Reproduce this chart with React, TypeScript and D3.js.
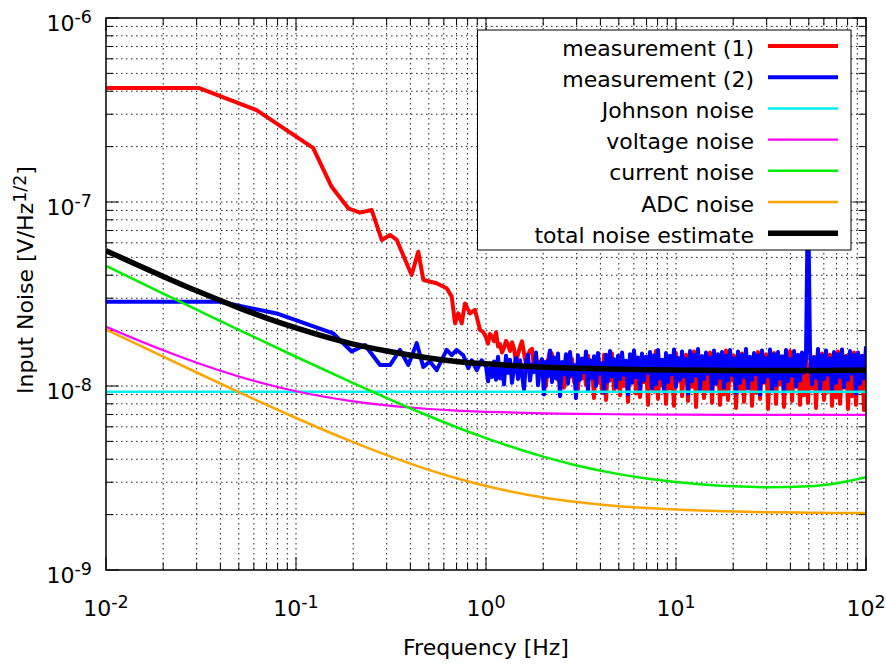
import React from "react";
import * as d3 from "d3";

const W = 886;
const H = 667;

// axis domains
const xDomain: [number, number] = [0.01, 100];
const yDomain: [number, number] = [1e-9, 1e-6];
const xExponents = [-2, -1, 0, 1, 2];
const yExponents = [-9, -8, -7, -6];

// measurement (1), low-frequency part (Hz, nV/Hz^1/2)
const meas1Freq = [0.01, 0.031, 0.062, 0.123, 0.154, 0.1885, 0.217, 0.25, 0.2825, 0.3125, 0.339, 0.406, 0.44, 0.468, 0.55, 0.621, 0.66, 0.687, 0.715, 0.745, 0.775, 0.824, 0.875, 0.93, 0.965];
const meas1Val = [416, 416, 316, 197, 121, 92.4, 87.5, 90.5, 62.2, 66.2, 62.2, 40.1, 53.7, 37.7, 36.2, 34.0, 30.6, 21.9, 24.8, 21.9, 28.1, 24.8, 25.9, 20.2, 19.7];

// measurement (2), low-frequency part
const meas2Freq = [0.01, 0.0398, 0.0791, 0.157, 0.1964, 0.2307, 0.2768, 0.3125, 0.3527, 0.39, 0.4318, 0.4677, 0.5074, 0.55, 0.621, 0.66, 0.701, 0.759, 0.807, 0.841, 0.894, 0.949];
const meas2Val = [28.7, 28.7, 24.8, 19.3, 15.4, 16.7, 13.0, 13.0, 15.7, 13.0, 17.1, 12.7, 13.6, 12.2, 15.7, 14.7, 15.7, 14.7, 12.5, 13.8, 12.2, 13.8];

// dense spectrum section, 1 Hz .. 100 Hz, 191 log-spaced bins (nV/Hz^1/2)
const bandStart = 1;
const bandEnd = 100;
const meas1Band = [
  18.4, 17.0, 19.2, 18.6, 17.5, 19.6, 16.4, 16.9, 15.2, 16.1,
  17.6, 16.8, 15.5, 17.3, 16.0, 13.4, 14.9, 16.3, 17.5, 15.1,
  13.2, 14.8, 15.6, 15.9, 12.4, 14.7, 11.8, 13.6, 12.2, 10.3,
  10.0, 13.8, 15.5, 14.9, 11.6, 12.9, 10.8, 13.1, 11.5, 9.8,
  12.6, 14.3, 11.2, 14.0, 10.5, 12.8, 9.6, 13.5, 11.0, 12.4,
  10.1, 14.6, 12.0, 13.2, 8.6, 13.9, 10.4, 12.7, 9.2, 14.8,
  8.4, 12.9, 10.7, 15.0, 9.5, 13.4, 11.3, 8.9, 14.4, 10.0,
  12.6, 8.2, 13.8, 10.9, 15.3, 9.1, 12.5, 8.7, 14.1, 10.5,
  13.0, 7.9, 14.7, 11.2, 9.3, 15.5, 8.5, 12.8, 10.1, 13.6,
  8.0, 14.2, 9.7, 12.3, 7.8, 15.1, 10.6, 13.5, 8.8, 11.9,
  14.8, 8.3, 12.7, 9.9, 15.4, 7.7, 13.1, 10.8, 14.5, 8.6,
  12.2, 9.4, 15.2, 8.1, 13.7, 10.3, 14.0, 7.9, 12.9, 9.0,
  15.6, 8.4, 13.3, 10.7, 14.6, 7.6, 12.5, 9.6, 15.0, 8.2,
  13.8, 10.0, 14.3, 7.8, 12.8, 9.2, 15.3, 8.5, 13.4, 10.4,
  14.9, 7.5, 12.6, 9.8, 15.1, 8.0, 13.9, 10.2, 14.2, 7.7,
  13.0, 9.5, 15.5, 8.3, 12.4, 10.6, 14.7, 7.9, 13.6, 8.9,
  15.2, 8.1, 12.9, 9.7, 14.4, 7.6, 13.2, 10.1, 15.0, 8.4,
  12.7, 9.3, 14.8, 7.8, 13.5, 8.7, 15.4, 8.0, 12.3, 9.9,
  14.6, 7.5, 13.1, 8.8, 15.2, 7.9, 12.8, 9.4, 14.3, 7.4,
  13.5,
];
const meas2Band = [
  12.8, 10.6, 12.5, 11.2, 13.6, 10.8, 14.4, 11.0, 13.2, 10.2,
  14.6, 11.8, 13.9, 10.4, 12.6, 14.2, 10.9, 13.8, 11.5, 9.6,
  13.4, 14.8, 10.7, 13.1, 11.9, 15.2, 10.1, 12.7, 14.0, 9.0,
  13.6, 11.3, 15.6, 10.5, 14.3, 11.0, 15.0, 8.8, 13.5, 11.6,
  14.9, 10.3, 15.3, 11.4, 13.0, 8.6, 14.7, 10.8, 14.1, 11.9,
  15.4, 9.4, 13.8, 11.1, 14.5, 10.0, 15.1, 11.7, 13.3, 9.2,
  14.8, 10.6, 15.5, 11.3, 14.0, 9.8, 14.6, 10.9, 15.2, 11.5,
  13.7, 9.0, 14.9, 10.4, 15.6, 11.2, 14.3, 9.5, 15.0, 10.7,
  14.4, 11.8, 15.3, 9.7, 14.7, 10.2, 15.7, 11.0, 13.9, 9.3,
  15.1, 10.5, 14.6, 11.6, 15.8, 9.9, 14.2, 10.8, 15.4, 11.3,
  14.0, 9.1, 15.5, 10.6, 14.8, 11.4, 15.9, 9.6, 14.5, 10.9,
  15.2, 11.7, 14.3, 9.4, 15.6, 10.3, 14.9, 11.1, 15.3, 9.8,
  14.6, 10.7, 15.7, 11.5, 14.1, 9.2, 15.4, 10.4, 14.8, 11.2,
  15.9, 9.7, 14.4, 10.8, 15.1, 11.6, 14.7, 9.0, 15.6, 10.5,
  14.2, 11.3, 15.8, 9.5, 14.9, 10.1, 15.3, 11.0, 14.5, 9.3,
  15.7, 10.6, 14.0, 11.4, 15.5, 9.9, 14.8, 10.7, 15.2, 11.8,
  14.6, 120, 15.4, 10.2, 14.3, 11.1, 15.9, 9.6, 14.7, 10.9,
  15.6, 11.5, 14.1, 9.4, 15.3, 10.4, 14.9, 11.2, 15.8, 9.8,
  14.4, 10.8, 15.5, 11.7, 14.8, 9.1, 15.2, 10.3, 14.6, 11.0,
  16.4,
];

// noise model curves (nV/Hz^1/2)
const modelFreq = [0.01, 0.02, 0.03, 0.05, 0.07, 0.1, 0.2, 0.3, 0.5, 0.7, 1, 2, 3, 5, 7, 10, 20, 30, 50, 70, 100];
const johnsonNoise = [9.3, 9.3, 9.3, 9.3, 9.3, 9.3, 9.3, 9.3, 9.3, 9.3, 9.3, 9.3, 9.3, 9.3, 9.3, 9.3, 9.3, 9.3, 9.3, 9.3, 9.3];
const voltageNoise = [21.0, 15.64, 13.39, 11.27, 10.22, 9.36, 8.25, 7.84, 7.50, 7.35, 7.24, 7.10, 7.05, 7.02, 7.0, 6.99, 6.97, 6.97, 6.96, 6.96, 6.96];
const currentNoise = [45.0, 31.8, 26.0, 20.2, 17.15, 14.42, 10.37, 8.6, 6.87, 5.97, 5.21, 4.13, 3.7, 3.32, 3.14, 3.01, 2.85, 2.82, 2.85, 2.96, 3.19];
const adcNoise = [20.3, 14.43, 11.84, 9.26, 7.9, 6.7, 4.95, 4.21, 3.5, 3.15, 2.86, 2.48, 2.34, 2.22, 2.17, 2.13, 2.08, 2.06, 2.05, 2.04, 2.04];
const totalNoise = [54.4, 39.4, 32.9, 26.6, 23.4, 20.7, 16.9, 15.5, 14.2, 13.6, 13.2, 12.65, 12.47, 12.32, 12.25, 12.21, 12.15, 12.14, 12.13, 12.16, 12.22];

const legendLabels = ["measurement (1)", "measurement (2)", "Johnson noise", "voltage noise", "current noise", "ADC noise", "total noise estimate"];
const seriesColors = ["#ff0000", "#0000ff", "#00f0f0", "#ff00ff", "#00ee00", "#ffa500", "#000000"];
const seriesWidths = [4, 4, 2.5, 2.2, 2.5, 2.5, 5.5];

type P = { f: number; v: number };

const FONT = "'DejaVu Sans', Verdana, sans-serif";
const FS = 22;
const SUP = 17.5;

export default function App() {
  const L = 106, R = 866, T = 18, B = 570;
  const x = d3.scaleLog().domain(xDomain).range([L, R]);
  const y = d3.scaleLog().domain(yDomain).range([B, T]);

  const nBand = meas1Band.length;
  const bandFreq = d3.range(nBand).map((i) =>
    Math.pow(10, Math.log10(bandStart) + (i * (Math.log10(bandEnd) - Math.log10(bandStart))) / (nBand - 1))
  );

  const s1: P[] = meas1Freq.map((f, i) => ({ f, v: meas1Val[i] * 1e-9 }))
    .concat(bandFreq.map((f, i) => ({ f, v: meas1Band[i] * 1e-9 })));
  const s2: P[] = meas2Freq.map((f, i) => ({ f, v: meas2Val[i] * 1e-9 }))
    .concat(bandFreq.map((f, i) => ({ f, v: meas2Band[i] * 1e-9 })));
  const models = [johnsonNoise, voltageNoise, currentNoise, adcNoise, totalNoise].map((arr) =>
    modelFreq.map((f, i) => ({ f, v: arr[i] * 1e-9 }))
  );

  const rough = d3.line<P>().x((d) => x(d.f)).y((d) => y(d.v));
  const smooth = d3.line<P>().x((d) => x(d.f)).y((d) => y(d.v)).curve(d3.curveMonotoneX);

  const xt = x.ticks();
  const yt = y.ticks();
  const isMajor = (v: number) => Math.abs(Math.log10(v) - Math.round(Math.log10(v))) < 1e-6;

  const MAJ = 13;
  const MIN = 7.5;

  const legX = 477.5, legY = 30, legW = 373.5, legH = 220;
  const rowY = (i: number) => 46 + i * 31.2;

  const allSeries: P[][] = [s1, s2, ...models];

  return (
    <svg width={W} height={H} style={{ position: "absolute", left: 0, top: 0, background: "#fff" }} fontFamily={FONT}>
      <rect x={0} y={0} width={W} height={H} fill="#fff" />
      <defs>
        <clipPath id="plotclip">
          <rect x={L} y={T} width={R - L} height={B - T} />
        </clipPath>
      </defs>
      {/* grid */}
      <g stroke="#222" strokeWidth={1} strokeDasharray="1.5,3.5" fill="none">
        {xt.filter((t) => t > xDomain[0] && t < xDomain[1]).map((t, i) => (
          <line key={"gx" + i} x1={x(t)} x2={x(t)} y1={T} y2={B} />
        ))}
        {yt.filter((t) => t > yDomain[0] * 1.0001 && t < yDomain[1] * 0.9999).map((t, i) => (
          <line key={"gy" + i} x1={L} x2={R} y1={y(t)} y2={y(t)} />
        ))}
      </g>
      {/* ticks */}
      <g stroke="#000" strokeWidth={1}>
        {xt.map((t, i) => {
          const len = isMajor(t) ? MAJ : MIN;
          return (
            <g key={"tx" + i}>
              <line x1={x(t)} x2={x(t)} y1={B} y2={B - len} />
              <line x1={x(t)} x2={x(t)} y1={T} y2={T + len} />
            </g>
          );
        })}
        {yt.map((t, i) => {
          const len = isMajor(t) ? MAJ : MIN;
          return (
            <g key={"ty" + i}>
              <line x1={L} x2={L + len} y1={y(t)} y2={y(t)} />
              <line x1={R} x2={R - len} y1={y(t)} y2={y(t)} />
            </g>
          );
        })}
      </g>
      {/* data */}
      <g clipPath="url(#plotclip)" fill="none" strokeLinejoin="round">
        {allSeries.map((s, i) => (
          <path
            key={"s" + i}
            d={(i < 2 ? rough(s) : smooth(s)) || ""}
            stroke={seriesColors[i]}
            strokeWidth={seriesWidths[i]}
          />
        ))}
      </g>
      {/* border */}
      <rect x={L} y={T} width={R - L} height={B - T} fill="none" stroke="#000" strokeWidth={1.5} />
      {/* tick labels */}
      <g fontSize={FS} fill="#000">
        {xExponents.map((e) => (
          <text key={"xl" + e} x={x(Math.pow(10, e))} y={615.5} textAnchor="middle">
            10<tspan fontSize={SUP} dy={-7.5}>{String(e)}</tspan>
          </text>
        ))}
        {yExponents.map((e) => (
          <text key={"yl" + e} x={92} y={y(Math.pow(10, e)) + 12.7} textAnchor="end">
            10<tspan fontSize={SUP} dy={-7.5}>{String(e)}</tspan>
          </text>
        ))}
      </g>
      {/* axis labels */}
      <text x={(L + R) / 2} y={655} textAnchor="middle" fontSize={FS}>Frequency [Hz]</text>
      <text transform="translate(33,280) rotate(-90)" textAnchor="middle" fontSize={FS}>
        Input Noise [V/Hz<tspan fontSize={SUP} dy={-7.5}>1/2</tspan><tspan dy={7.5}>]</tspan>
      </text>
      {/* legend */}
      <rect x={legX} y={legY} width={legW} height={legH} fill="#fff" stroke="#000" strokeWidth={1} />
      {legendLabels.map((lab, i) => (
        <g key={"lg" + i}>
          <text x={754} y={rowY(i) + 9.5} textAnchor="end" fontSize={FS}>{lab}</text>
          <line x1={768} x2={838} y1={rowY(i)} y2={rowY(i)} stroke={seriesColors[i]} strokeWidth={seriesWidths[i]} />
        </g>
      ))}
    </svg>
  );
}
